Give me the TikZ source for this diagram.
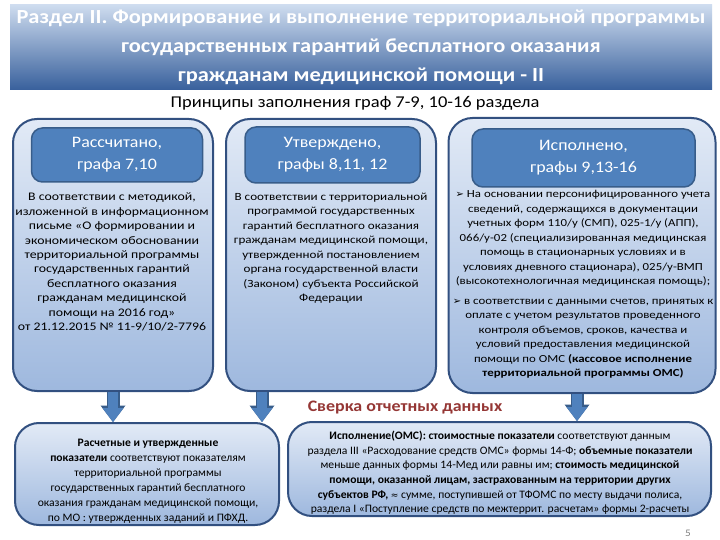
\documentclass[tikz,border=0pt]{standalone}
\usepackage{fontspec}
\setmainfont{Carlito}[FakeStretch=1.12]
\newfontfamily\bodyfont{Carlito}[FakeStretch=1.19]
\newfontfamily\condfont{Carlito}[FakeStretch=1.02]
\newfontfamily\symfont{DejaVu Sans}
\usetikzlibrary{arrows.meta, positioning}
\definecolor{hdrblue}{RGB}{79,129,189}
\definecolor{hdrline}{RGB}{56,93,138}
\definecolor{boxline}{RGB}{50,80,128}
\definecolor{boxtop}{RGB}{158,184,222}
\definecolor{boxbot}{RGB}{226,234,246}
\definecolor{bantop}{RGB}{56,96,156}
\definecolor{banbot}{RGB}{206,220,239}
\definecolor{checkred}{RGB}{149,55,53}
\newcommand*{\bul}{{\symfont\fontsize{10}{10}\selectfont ➢}\ }

\begin{document}
\begin{tikzpicture}[x=1pt, y=-1pt,
    % y runs downwards, so the shadings are given upside down
    banner/.style={top color=banbot, bottom color=bantop,
      inner sep=0pt, font=\fontsize{20}{29}\selectfont\bfseries, text=white, align=center},
    colbox/.style={draw=boxline, line width=2pt, rounded corners=24pt, top color=boxbot, bottom color=boxtop},
    headbox/.style={draw=hdrline, line width=1.5pt, rounded corners=11pt, fill=hdrblue,
      text=white, font=\fontsize{16}{22}\selectfont, align=center},
    body/.style={font=\bodyfont\fontsize{11}{14.5}\selectfont, align=center, inner sep=0pt},
    lowbody/.style={font=\condfont\fontsize{11.4}{14.6}\selectfont, align=center, inner sep=0pt},
    bigarrow/.style={draw=hdrblue, line width=10pt, -{Triangle[length=14pt, width=21pt, line width=0pt]},
      preaction={draw=hdrline, line width=13pt, -{Triangle[length=16.5pt, width=25pt, line width=0pt]}}}
  ]
  \useasboundingbox (0,0) rectangle (720,540);
  \fill[white] (0,0) rectangle (720,540);

  \node[banner, minimum width=702, minimum height=85] (title) at (361,47.5)
    {Раздел II. Формирование и выполнение территориальной программы\\
     государственных гарантий бесплатного оказания\\
     гражданам медицинской помощи - II};
  \node[font=\fontsize{16.5}{18}\selectfont] (sub) at (355,103) {Принципы заполнения граф 7-9, 10-16 раздела};

  \node[colbox, minimum width=200, minimum height=272] (calc) at (113,255) {};
  \node[colbox, minimum width=210, minimum height=272] (appr) at (331,255) {};
  \node[colbox, minimum width=267, minimum height=275] (exec) at (582,255.5) {};

  \node[headbox, minimum width=171, minimum height=54] (calchead) at (117,155) {Рассчитано,\\графа 7,10};
  \node[headbox, minimum width=175, minimum height=56] (apprhead) at (332.5,155) {Утверждено,\\графы 8,11, 12};
  \node[headbox, minimum width=223, minimum height=58] (exechead) at (583.5,158) {Исполнено,\\графы 9,13-16};

  \node[body, font=\bodyfont\fontsize{11.6}{14.4}\selectfont] (calctext) at (112,262) {В соответствии с методикой,\\
    изложенной в информационном\\ письме «О формировании и\\
    экономическом обосновании\\ территориальной программы\\ государственных гарантий\\ бесплатного оказания\\
    гражданам медицинской\\ помощи на 2016 год»\\ от 21.12.2015 № 11-9/10/2-7796};
  \node[body] (apprtext) at (331,248) {В соответствии с территориальной\\ программой государственных\\
    гарантий бесплатного оказания\\ гражданам медицинской помощи,\\ утвержденной постановлением\\
    органа государственной власти\\ (Законом) субъекта Российской\\ Федерации};
  \node[body, anchor=north, font=\bodyfont\fontsize{10.8}{14.5}\selectfont] (exectext) at (583,190.5)
    {\bul На основании персонифицированного учета\\
    сведений, содержащихся в документации\\ учетных форм 110/у (СМП), 025-1/у (АПП),\\
    066/у-02 (специализированная медицинская\\ помощь в стационарных условиях и в\\
    условиях дневного стационара), 025/у-ВМП\\ (высокотехнологичная медицинская помощь);\\[5pt]
    \bul в соответствии с данными счетов, принятых к\\ оплате с учетом результатов проведенного\\
    контроля объемов, сроков, качества и\\ условий предоставления медицинской\\
    помощи по ОМС \textbf{(кассовое исполнение}\\ \textbf{территориальной программы ОМС)}};

  \node[font=\fontsize{16}{18}\selectfont\bfseries, text=checkred] (check) at (405,408) {Сверка отчетных данных};

  \node[colbox, minimum width=264, minimum height=102] (plan) at (147,474) {};
  \node[colbox, minimum width=423, minimum height=94] (fact) at (499.5,469) {};
  \node[lowbody, font=\condfont\fontsize{11.4}{15}\selectfont] (plantext) at (148,481) {\textbf{Расчетные и утвержденные}\\
    \textbf{показатели} соответствуют показателям\\ территориальной программы\\
    государственных гарантий бесплатного\\ оказания гражданам медицинской помощи,\\
    по МО : утвержденных заданий и ПФХД.};
  \node[lowbody] (facttext) at (500,473) {\textbf{Исполнение(ОМС): стоимостные показатели} соответствуют данным\\
    раздела III «Расходование средств ОМС» формы 14-Ф; \textbf{объемные показатели}\\
    меньше данных формы 14-Мед или равны им; \textbf{стоимость медицинской}\\
    \textbf{помощи, оказанной лицам, застрахованным на территории других}\\
    \textbf{субъектов РФ,} {\symfont\fontsize{9}{9}\selectfont ≈} сумме, поступившей от ТФОМС по месту выдачи полиса,\\
    раздела I «Поступление средств по межтеррит. расчетам» формы 2-расчеты};
  \node[text=gray, font=\fontsize{10}{10}\selectfont] (page) at (688,533) {5};

  \coordinate (a1) at (113,0);
  \coordinate (a2) at (262,0);
  \coordinate (a3) at (577,0);
  \draw[bigarrow] (a1 |- calc.south) -- (a1 |- plan.north);
  \draw[bigarrow] (a2 |- appr.south) -- (a2 |- plan.north);
  \draw[bigarrow] (a3 |- exec.south) -- (a3 |- fact.north);
\end{tikzpicture}
\end{document}
